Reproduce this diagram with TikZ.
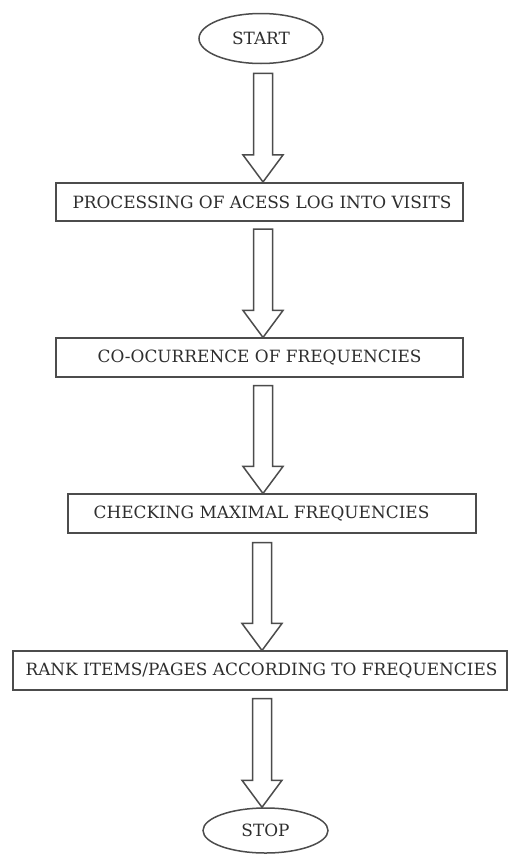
\documentclass[tikz,border=0pt]{standalone}
\usepackage{fontspec}
\setmainfont{DejaVu Serif}
\usetikzlibrary{shapes.geometric,calc}
\definecolor{linegray}{rgb}{0.30,0.30,0.30}
\definecolor{textgray}{rgb}{0.18,0.18,0.18}
\begin{document}
\begin{tikzpicture}[x=1pt,y=-1pt,
  every node/.style={font=\fontsize{16.9}{20}\selectfont, text=textgray},
  term/.style={ellipse, draw=linegray, line width=1.5pt, inner sep=0pt, minimum width=124pt, minimum height=50pt},
  procbox/.style={rectangle, draw=linegray, line width=1.6pt, inner sep=0pt, minimum height=38.5pt},
  blockarrow/.style={draw=linegray, line width=1.5pt, fill=white,
    to path={let \p1=(\tikztostart), \p2=(\tikztotarget) in
      (\x1-9.5pt,\y1) -- (\x1+9.5pt,\y1) -- (\x1+9.5pt,\y2+27pt) -- (\x1+20pt,\y2+27pt)
      -- (\x1,\y2) -- (\x1-20pt,\y2+27pt) -- (\x1-9.5pt,\y2+27pt) -- cycle}}]
\useasboundingbox[fill=white] (0,0) rectangle (508,854);

\node[term] (start) at (261,38.5) {START};
\node[procbox, minimum width=407pt] (box1) at (259.5,202) {\kern5pt PROCESSING OF ACESS LOG INTO VISITS};
\node[procbox, minimum width=407pt] (box2) at (259.5,357.5) {CO-OCURRENCE OF FREQUENCIES};
\node[procbox, minimum width=408pt] (box3) at (272,513.5) {CHECKING MAXIMAL FREQUENCIES\kern21pt};
\node[procbox, minimum width=494pt] (box4) at (260,670.5) {\kern3pt RANK ITEMS/PAGES ACCORDING TO FREQUENCIES};
\node[term, minimum width=125pt, minimum height=45pt] (stop) at (265.5,830.5) {STOP};

\draw[blockarrow] ($(start.south)+(2,9)$) to (box1.north);
\draw[blockarrow] ($(box1.south)+(3.5,7)$) to (box2.north);
\draw[blockarrow] ($(box2.south)+(3.5,8)$) to (box3.north);
\draw[blockarrow] ($(box3.south)+(-10,9)$) to (box4.north);
\draw[blockarrow] ($(box4.south)+(2,8)$) to (stop.north);
\end{tikzpicture}
\end{document}
